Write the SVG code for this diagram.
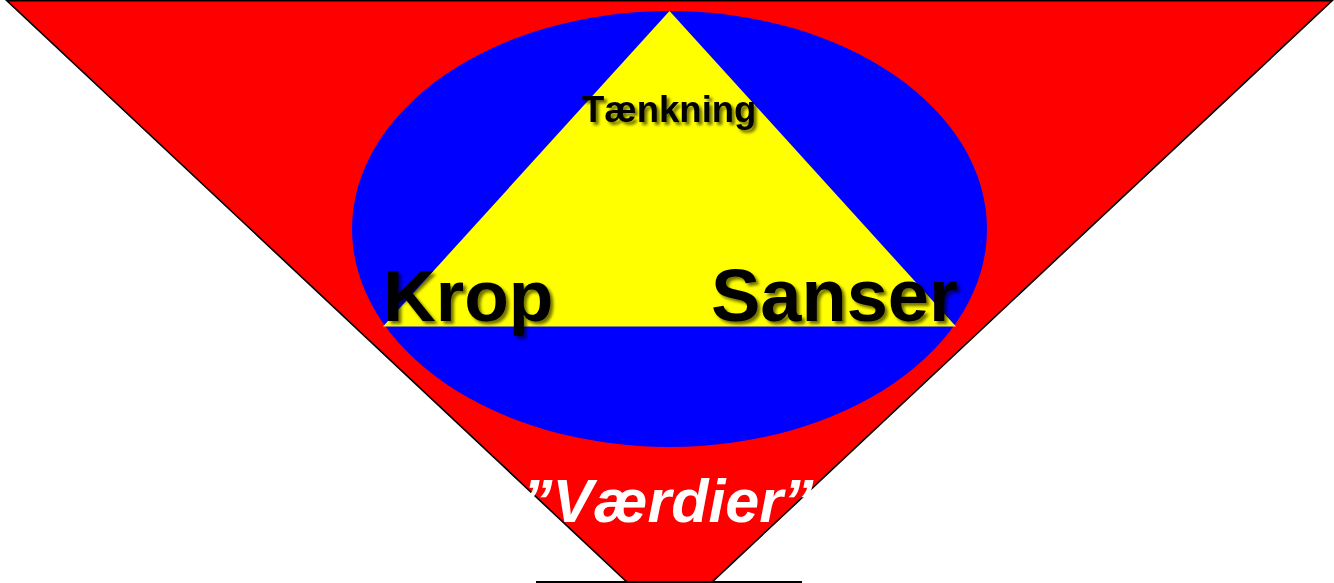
<svg xmlns="http://www.w3.org/2000/svg" width="1334" height="583" viewBox="0 0 1334 583">
<defs>
<filter id="shadow" x="-10%" y="-20%" width="130%" height="150%">
<feDropShadow dx="3" dy="3" stdDeviation="1.5" flood-color="#000" flood-opacity="0.55"/>
</filter>
</defs>
<style>
.lbl{font-family:"Liberation Sans",Arial,sans-serif;font-weight:bold;fill:#000;filter:url(#shadow)}
.val{font-family:"Liberation Sans",Arial,sans-serif;font-weight:bold;font-style:italic;fill:#fff}
</style>
<rect width="1334" height="583" fill="#fff"/>
<g id="vaerdier-triangle">
<polygon points="7,0.8 1332,0.8 669.5,622" fill="#ff0000" stroke="#000" stroke-width="1.6"/>
</g>
<g id="ellipse">
<ellipse cx="669.5" cy="229" rx="317.5" ry="218" fill="#0000ff"/>
</g>
<g id="yellow-triangle">
<polygon points="669.5,11 383,326.5 956,326.5" fill="#ffff00"/>
</g>
<g id="connectors">
<line x1="536" y1="582" x2="802" y2="582" stroke="#000" stroke-width="2"/>
</g>
<g id="label-taenkning">
<text class="lbl" x="582" y="122" font-size="36.5">Tænkning</text>
</g>
<g id="label-krop">
<text class="lbl" x="383" y="321" font-size="73">Krop</text>
</g>
<g id="label-sanser">
<text class="lbl" x="711" y="321" font-size="74">Sanser</text>
</g>
<g id="label-vaerdier">
<text class="val" x="522" y="522" font-size="61">”Værdier”</text>
</g>
</svg>
